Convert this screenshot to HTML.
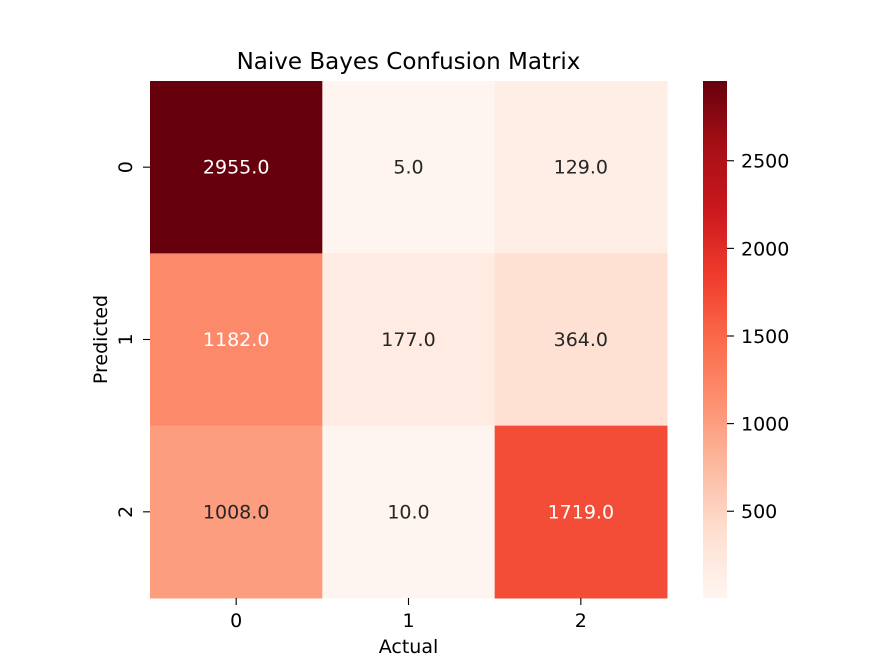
<!DOCTYPE html>
<html><head><meta charset="utf-8"><style>
body{margin:0;background:#fff}
svg{display:block;font-family:"DejaVu Sans","Liberation Sans",sans-serif}
</style></head><body>
<svg id="chart" width="896" height="672" viewBox="0 0 896 672">
<rect width="896" height="672" fill="#fff"/>
<text x="408.5" y="69" text-anchor="middle" font-size="23" fill="#000">Naive Bayes Confusion Matrix</text>
<g id="cells"></g>
<g id="xaxis"></g>
<g id="yaxis"></g>
<text x="408.5" y="653" text-anchor="middle" font-size="19" fill="#000">Actual</text>
<text x="107" y="339.5" text-anchor="middle" font-size="19" fill="#000" transform="rotate(-90 107 339.5)">Predicted</text>
<defs><linearGradient id="cbgrad" x1="0" y1="1" x2="0" y2="0"></linearGradient></defs>
<rect x="703" y="81" width="24" height="517" fill="url(#cbgrad)"/>
<g id="cbticks"></g>
</svg>
<script>
const xCategories = ["0","1","2"];
const yCategories = ["0","1","2"];
const matrixValues = [
  [2955, 5, 129],
  [1182, 177, 364],
  [1008, 10, 1719]
];
const colorbarTicks = [500, 1000, 1500, 2000, 2500];

const NS = "http://www.w3.org/2000/svg";
const stops = ["#fff5f0","#fee0d2","#fcbba1","#fc9272","#fb6a4a","#ef3b2c","#cb181d","#a50f15","#67000d"].map(h=>[parseInt(h.substr(1,2),16),parseInt(h.substr(3,2),16),parseInt(h.substr(5,2),16)]);
function reds(t){t=Math.max(0,Math.min(1,t));const s=t*8;const i=Math.min(7,Math.floor(s));const f=s-i;
  return stops[i].map((c,k)=>Math.round(c+(stops[i+1][k]-c)*f));}
function rgb(c){return `rgb(${c[0]},${c[1]},${c[2]})`;}
function lum(c){const l=c.map(v=>{v/=255;return v<=0.03928?v/12.92:Math.pow((v+0.055)/1.055,2.4);});return 0.2126*l[0]+0.7152*l[1]+0.0722*l[2];}
const flat = matrixValues.flat();
const vmin = Math.min(...flat), vmax = Math.max(...flat);
const X0=150, X1=667, Y0=81, Y1=598;
const cw=(X1-X0)/xCategories.length, ch=(Y1-Y0)/yCategories.length;
const xPos = i => X0 + i*cw;
const yPos = j => Y0 + j*ch;
const norm = v => (v-vmin)/(vmax-vmin);
const cbY = v => Y1 - norm(v)*(Y1-Y0);

function mk(tag, attrs, parent){const e=document.createElementNS(NS,tag);for(const k in attrs)e.setAttribute(k,attrs[k]);parent.appendChild(e);return e;}
const cells=document.getElementById('cells');
matrixValues.forEach((row,j)=>row.forEach((v,i)=>{
  const c=reds(norm(v));
  const r=mk('rect',{x:xPos(i),y:yPos(j),width:cw+0.5,height:ch+0.5,fill:rgb(c)},cells);
  
  
  const t=mk('text',{x:xPos(i)+cw/2,y:yPos(j)+ch/2+6.5,'text-anchor':'middle','font-size':'19',fill:lum(c)<0.408?'#fff':'#262626'},cells);
  t.textContent=v.toFixed(1);
  
  
}));
const xa=document.getElementById('xaxis');
xCategories.forEach((c,i)=>{
  const x=xPos(i)+cw/2;
  mk('line',{x1:x,x2:x,y1:Y1,y2:Y1+7,stroke:'#000','stroke-width':1.1},xa);
  const t=mk('text',{x:x,y:Y1+29,'text-anchor':'middle','font-size':'19',fill:'#000'},xa);
  t.textContent=c;
  
  
});
const ya=document.getElementById('yaxis');
yCategories.forEach((c,j)=>{
  const y=yPos(j)+ch/2;
  mk('line',{x1:X0-7,x2:X0,y1:y,y2:y,stroke:'#000','stroke-width':1.1},ya);
  const t=mk('text',{x:132,y:y,'text-anchor':'middle','font-size':'19',fill:'#000',transform:`rotate(-90 132 ${y})`},ya);
  t.textContent=c;
  
  
});
const g=document.getElementById('cbgrad');
for(let k=0;k<=40;k++){mk('stop',{offset:(k/40),'stop-color':rgb(reds(k/40))},g);}
const cbt=document.getElementById('cbticks');
colorbarTicks.forEach(v=>{
  const y=cbY(v);
  mk('line',{x1:727,x2:734,y1:y,y2:y,stroke:'#000','stroke-width':1.1},cbt);
  const t=mk('text',{x:741,y:y+7,'font-size':'19',fill:'#000'},cbt);
  t.textContent=v;
  
  
});
</script>
</body></html>
